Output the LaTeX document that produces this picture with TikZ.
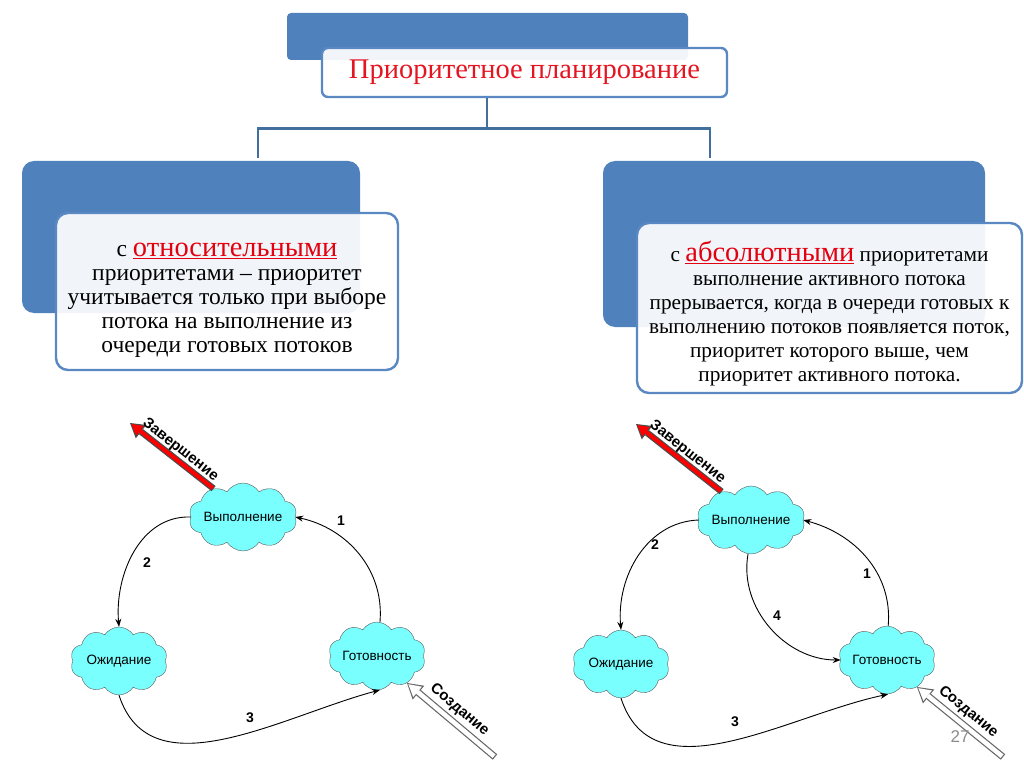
\documentclass[tikz,border=0pt]{standalone}
\usepackage{fontspec}
\setmainfont{Liberation Serif}
\newfontfamily\arialf{Liberation Sans}
\usepackage{xcolor}
\usetikzlibrary{shapes.symbols,arrows.meta,positioning}
\definecolor{barblue}{HTML}{4F81BD}
\definecolor{edgeblue}{HTML}{5A88C2}
\definecolor{linkblue}{HTML}{41709F}
\definecolor{titlered}{HTML}{E3000F}
\definecolor{cloudcyan}{HTML}{7AFFFF}
\newcommand{\redword}[1]{{\fontsize{28.5}{24}\selectfont\color{titlered}\underline{#1}}}

\tikzset{
  bar/.style={fill=barblue, rounded corners=#1, inner sep=0pt},
  panel/.style={draw=edgeblue, line width=2.4pt, fill=white, fill opacity=0.92,
    rounded corners=#1, inner sep=0pt, align=center, text=black},
  blurb/.style={align=center, text=black, inner sep=0pt},
  state/.style={shape=cloud, cloud puffs=10, cloud puff arc=115, cloud ignores aspect,
    minimum width=97pt, minimum height=68pt, inner sep=0pt,
    fill=cloudcyan, draw=black!65, thin,
    font=\arialf\fontsize{13.5}{14}\selectfont},
  move/.style={black, line width=0.9pt, -{Stealth[length=8pt,width=6pt]}},
  num/.style={font=\arialf\bfseries\fontsize{14}{14}\selectfont},
  tag/.style={font=\arialf\bfseries\fontsize{15}{15}\selectfont, text=black, sloped, inner sep=1pt},
}

\begin{document}
\begin{tikzpicture}[x=1pt,y=1pt]
  \useasboundingbox (0,0) rectangle (1024,-767);
  \fill[white] (0,0) rectangle (1024,-767);

  % top header
  \node[bar=4pt, minimum width=401pt, minimum height=47pt] (topbar) at (487.5,-36.5) {};
  \node[panel=6pt, minimum width=405pt, minimum height=49pt,
        font=\fontsize{28.5}{28}\selectfont, text=titlered] (title) at (524.5,-72.5)
        {Приоритетное планирование};

  % two branches
  \node[bar=12pt, minimum width=338pt, minimum height=152pt] (leftbar) at (191,-237) {};
  \node[bar=12pt, minimum width=382pt, minimum height=166pt] (rightbar) at (794,-244) {};
  \draw[linkblue, line width=2.8pt] (title.south) ++(-37.5,0) coordinate (fork) -- ++(0,-30)
    -| ([xshift=67pt,yshift=3pt]leftbar.north);
  \draw[linkblue, line width=2.8pt] (fork) ++(0,-30) -| ([xshift=-84pt,yshift=3pt]rightbar.north);

  \node[panel=12pt, minimum width=342pt, minimum height=157pt] (leftbox) at (227,-291.5) {};
  \node[blurb, font=\fontsize{23.5}{24}\selectfont] (lefttext) at (227,-300)
    {с \redword{относительными}\\ приоритетами -- приоритет\\ учитывается только при выборе\\
     потока на выполнение из\\ очереди готовых потоков};
  \node[panel=12pt, minimum width=385pt, minimum height=170pt] (rightbox) at (829.5,-308) {};
  \node[blurb, font=\fontsize{21.3}{24}\selectfont] (righttext) at (829.5,-314)
    {с \redword{абсолютными} приоритетами\\ выполнение активного потока\\
     прерывается, когда в очереди готовых к\\ выполнению потоков появляется поток,\\
     приоритет которого выше, чем\\ приоритет активного потока.};

  % left state diagram
  \node[state] (vyp1) at (243,-517) {Выполнение};
  \node[state] (ozh1) at (119,-661) {Ожидание};
  \node[state] (got1) at (377,-656) {Готовность};
  \coordinate (zav1) at (130,-423);
  \coordinate (soz1) at (495,-757);

  \draw[move] (got1.85) to[out=85,in=-12] (vyp1.east);
  \draw[move] (vyp1.west) to[out=178,in=95] (ozh1.north);
  \draw[move] (ozh1.-90) to[out=-72,in=195] (got1.-85);
  \node[num] (n1a) at (341,-521) {1};
  \node[num] (n2a) at (147,-563) {2};
  \node[num] (n3a) at (250,-718) {3};

  \draw[line width=6.5pt, black!70, -{Triangle[length=14pt,width=17pt,line width=0pt]}]
    (vyp1.136) -- (zav1);
  \draw[line width=4pt, red, -{Triangle[length=11pt,width=12pt,line width=0pt]},
    shorten >=1.6pt, shorten <=1pt] (vyp1.136) -- (zav1)
    node[tag, pos=0.47, above=0pt] {Завершение};
  \draw[line width=7pt, black!60, -{Triangle[length=15pt,width=18pt,line width=0pt]}]
    (soz1) -- (got1.-42);
  \draw[line width=4.6pt, white, -{Triangle[length=12pt,width=13.5pt,line width=0pt]},
    shorten >=1.8pt, shorten <=1.2pt] (soz1) -- (got1.-42)
    node[tag, midway, above=3pt] {Создание};

  % right state diagram
  \node[state] (vyp2) at (751,-520) {Выполнение};
  \node[state] (ozh2) at (621,-664) {Ожидание};
  \node[state] (got2) at (887,-660) {Готовность};
  \coordinate (zav2) at (636,-424);
  \coordinate (soz2) at (1003,-757);

  \draw[move] (got2.88) to[out=85,in=-15] (vyp2.east);
  \draw[move] (vyp2.west) to[out=182,in=95] (ozh2.north);
  \draw[move] (vyp2.-95) to[out=-100,in=180] (got2.west);
  \draw[move] (ozh2.-90) to[out=-72,in=192] (got2.-88);
  \node[num] (n1b) at (867,-574) {1};
  \node[num] (n2b) at (655,-545) {2};
  \node[num] (n4b) at (777,-616) {4};
  \node[num] (n3b) at (735,-722) {3};

  \draw[line width=6.5pt, black!70, -{Triangle[length=14pt,width=17pt,line width=0pt]}]
    (vyp2.136) -- (zav2);
  \draw[line width=4pt, red, -{Triangle[length=11pt,width=12pt,line width=0pt]},
    shorten >=1.6pt, shorten <=1pt] (vyp2.136) -- (zav2)
    node[tag, pos=0.47, above=0pt] {Завершение};
  \draw[line width=7pt, black!60, -{Triangle[length=15pt,width=18pt,line width=0pt]}]
    (soz2) -- (got2.-42);
  \draw[line width=4.6pt, white, -{Triangle[length=12pt,width=13.5pt,line width=0pt]},
    shorten >=1.8pt, shorten <=1.2pt] (soz2) -- (got2.-42)
    node[tag, midway, above=3pt] {Создание};

  % slide number
  \node[font=\arialf\fontsize{17}{17}\selectfont, text=black!45] (pnum) at (960,-737) {27};
\end{tikzpicture}
\end{document}
